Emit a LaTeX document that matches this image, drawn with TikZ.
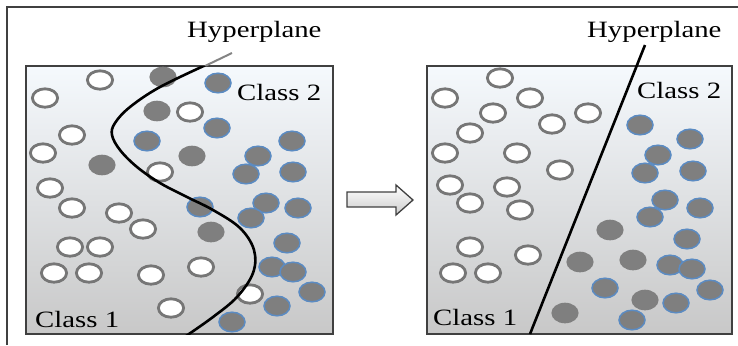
\documentclass[tikz,border=0pt]{standalone}
\usepackage{fontspec}
\newfontfamily\labfont[FakeStretch=1.23]{Liberation Serif}
\definecolor{ringgray}{HTML}{767676}
\definecolor{dotgray}{HTML}{7F7F7F}
\definecolor{dotblue}{HTML}{5B8BC2}
\definecolor{framegray}{HTML}{404040}
\definecolor{boxtop}{HTML}{F5F9FD}
\definecolor{boxbot}{HTML}{C8C8C8}
\begin{document}
\begin{tikzpicture}[x=1bp,y=-1bp,
  openc/.style={draw=ringgray, line width=2.8bp, fill=white},
  grayc/.style={fill=dotgray},
  bluec/.style={draw=dotblue, line width=1.5bp, fill=dotgray},
  panel/.style={draw=framegray, line width=1.3bp, top color=boxtop, bottom color=boxbot},
  lab/.style={inner sep=0pt, anchor=base west, font=\labfont\fontsize{23.4bp}{28bp}\selectfont, text=black},
  hyper/.style={black, line width=2.6bp}]
\useasboundingbox (0,0) rectangle (738,345);
% outer frame (top and left visible)
\draw[framegray, line width=1.5bp] (7,345) -- (7,7) -- (738,7);
% panels
\shade[panel] (26,66) rectangle (333,334);
\shade[panel] (427,66) rectangle (732,334);
% arrow
\shade[draw=framegray, line width=1.3bp, top color=white, bottom color=black!20]
  (347,192) -- (396,192) -- (396,185) -- (413,200) -- (396,215) -- (396,207) -- (347,207) -- cycle;
% left panel circles
\foreach \x/\y in {100/80,45/98,72/135,43/153,50/188,72/208,119/213,143/229,70/247,100/247,54/273,89/273,151/275,201/267,171/308,250/294,190/112,160/172}
  \draw[openc] (\x,\y) ellipse [x radius=12.6bp, y radius=9.2bp];
\foreach \x/\y in {163/77,157/111,102/165,192/156,211/232}
  \fill[grayc] (\x,\y) ellipse [x radius=13.6bp, y radius=10.3bp];
\foreach \x/\y in {218/83,217/128,147/141,292/141,258/156,246/174,293/172,200/207,266/203,251/218,298/208,287/243,272/267,293/272,312/292,277/306,232/322}
  \filldraw[bluec] (\x,\y) ellipse [x radius=13bp, y radius=9.8bp];
% right panel circles
\foreach \x/\y in {500/78,445/98,530/98,493/113,552/124,588/113,470/133,445/153,517/153,560/170,450/185,507/187,470/203,520/210,470/247,528/255,453/273,488/273}
  \draw[openc] (\x,\y) ellipse [x radius=12.6bp, y radius=9.2bp];
\foreach \x/\y in {610/230,580/262,633/260,645/300,565/313}
  \fill[grayc] (\x,\y) ellipse [x radius=13.6bp, y radius=10.3bp];
\foreach \x/\y in {640/125,690/139,658/155,645/173,693/171,665/200,650/217,700/208,687/239,670/265,692/269,710/290,605/288,676/303,632/320}
  \filldraw[bluec] (\x,\y) ellipse [x radius=13bp, y radius=9.8bp];
% left hyperplane
\draw[ringgray!90, line width=2bp] (205,66) -- (232,53);
\begin{scope}
  \clip (26,66) rectangle (333,334);
  \draw[hyper] plot[smooth, tension=0.6] coordinates {(208,64) (160,87) (130,107) (115,123) (112,135) (120,150) (137,167) (160,183) (187,197) (213,210) (240,228) (254,250) (253,273) (237,297) (213,317) (186,336)};
\end{scope}
% right hyperplane
\coordinate (rt) at (645,45);
\coordinate (rb) at (530,334);
\draw[hyper] (rt) -- (rb);
% labels
\node[lab] (h1) at (187,37) {Hyperplane};
\node[lab] (h2) at (587,37) {Hyperplane};
\node[lab] (c2l) at (237,100) {Class 2};
\node[lab] (c1l) at (35,327) {Class 1};
\node[lab] (c2r) at (637,98) {Class 2};
\node[lab] (c1r) at (433,325) {Class 1};
\end{tikzpicture}
\end{document}
